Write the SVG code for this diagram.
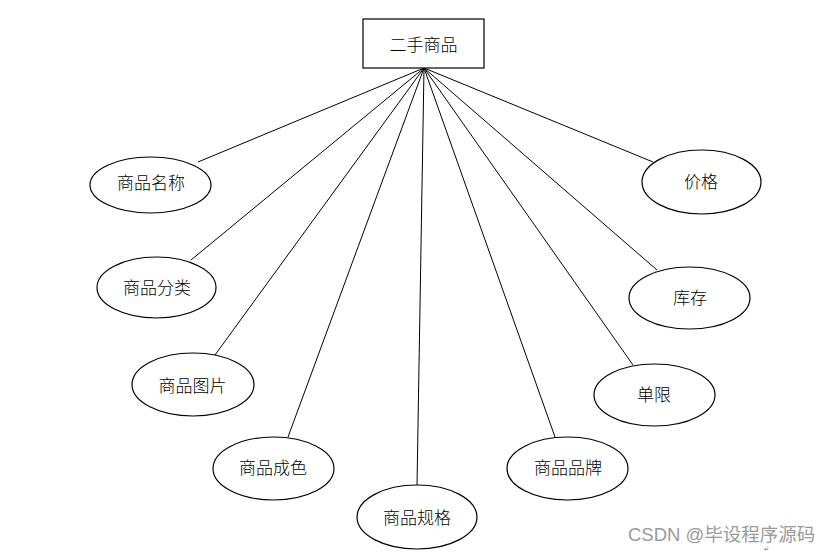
<svg xmlns="http://www.w3.org/2000/svg" width="834" height="554" viewBox="0 0 834 554">
<style>
.n{fill:#fff;stroke:#000;stroke-width:1.2}
.t{font-family:"Noto Sans CJK SC","Liberation Sans",sans-serif;font-size:17px;font-weight:300;fill:#000;text-anchor:middle;dominant-baseline:central}
.c line{stroke:#000;stroke-width:1}
.w{font-family:"Liberation Sans","Noto Sans CJK SC",sans-serif;font-size:18.5px;fill:#9a9a9a}
</style>
<rect width="834" height="554" fill="#fff"/>
<g class="c" id="connectors">
<line x1="424" y1="68" x2="198" y2="162"/>
<line x1="424" y1="68" x2="191" y2="260"/>
<line x1="424" y1="68" x2="215" y2="355"/>
<line x1="424" y1="68" x2="288" y2="437"/>
<line x1="424" y1="68" x2="417" y2="485"/>
<line x1="424" y1="68" x2="555" y2="437"/>
<line x1="424" y1="68" x2="633" y2="365"/>
<line x1="424" y1="68" x2="657" y2="270"/>
<line x1="424" y1="68" x2="653" y2="162"/>
</g>
<g id="root"><rect class="n" x="363" y="19" width="121" height="49"/><text class="t" x="423.5" y="43">二手商品</text></g>
<g id="mc"><ellipse class="n" cx="150.5" cy="185" rx="60.5" ry="28"/><text class="t" x="151" y="181">商品名称</text></g>
<g id="fl"><ellipse class="n" cx="156.5" cy="287.5" rx="59.5" ry="30.5"/><text class="t" x="157" y="286.5">商品分类</text></g>
<g id="tp"><ellipse class="n" cx="193" cy="384.5" rx="61" ry="31.5"/><text class="t" x="192.5" y="384">商品图片</text></g>
<g id="cs"><ellipse class="n" cx="273.5" cy="468.5" rx="60.5" ry="31.5"/><text class="t" x="273" y="466">商品成色</text></g>
<g id="gg"><ellipse class="n" cx="417" cy="517" rx="60" ry="32"/><text class="t" x="417" y="516">商品规格</text></g>
<g id="pp"><ellipse class="n" cx="567.5" cy="468.5" rx="60.5" ry="31.5"/><text class="t" x="568" y="466">商品品牌</text></g>
<g id="dx"><ellipse class="n" cx="654.5" cy="395" rx="60.5" ry="31"/><text class="t" x="654" y="393">单限</text></g>
<g id="kc"><ellipse class="n" cx="689.5" cy="298" rx="60.5" ry="31"/><text class="t" x="690" y="296">库存</text></g>
<g id="jg"><ellipse class="n" cx="701.5" cy="182" rx="59.5" ry="32"/><text class="t" x="701" y="180">价格</text></g>
<text class="w" x="628" y="541">CSDN @毕设程序源码</text>
<text x="764" y="551" font-family="DejaVu Sans,sans-serif" font-size="6" fill="#666">↵</text>
</svg>
